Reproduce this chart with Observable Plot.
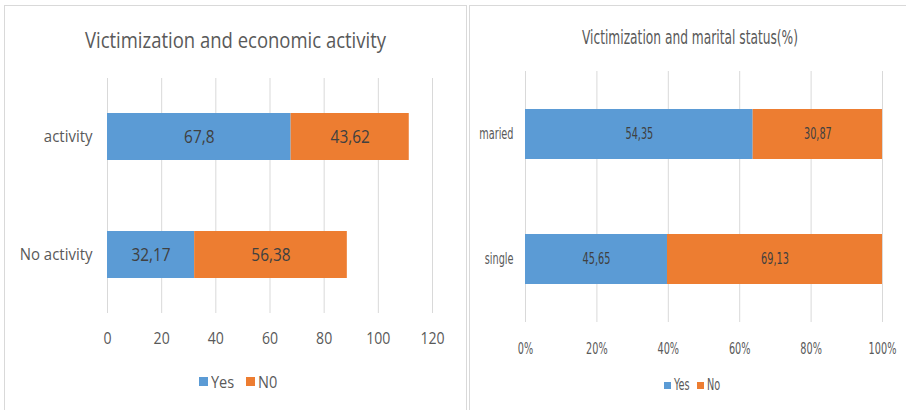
<!DOCTYPE html>
<html>
<head>
<meta charset="utf-8">
<script src="https://cdn.jsdelivr.net/npm/d3@7"></script>
<script src="https://cdn.jsdelivr.net/npm/@observablehq/plot@0.6"></script>
<style>
  html, body { margin: 0; padding: 0; background: #fff; }
  body { position: relative; width: 906px; height: 410px; overflow: hidden; }
  .frame { position: absolute; border: 1px solid #d9d9d9; box-sizing: border-box; }
  .abs { position: absolute; }
  .title { position: absolute; text-align: center; color: #595959; white-space: nowrap; }
  .legend { position: absolute; display: flex; justify-content: center; align-items: center; color: #595959; white-space: nowrap; }
  .legend span.sw { display: inline-block; flex: none; }
  .legend span.lt { display: inline-block; transform-origin: 0 50%; flex: none; }
  #left, #left * { font-family: "Open Sans", sans-serif; }
  #right, #right * { font-family: "DejaVu Sans Condensed", sans-serif; }
</style>
</head>
<body>
<div id="left">
  <div class="frame" style="left:4px;top:5px;width:463px;height:430px;"></div>
  <div class="title" id="titleL" style="left:4px;top:27px;width:463px;font-size:21px;line-height:26px;transform:scaleX(0.88);">Victimization and economic activity</div>
  <div class="abs" id="plotL" style="left:0px;top:70px;"></div>
  <div class="legend" id="legL" style="left:138px;top:371px;width:200px;height:20px;font-size:16.5px;"></div>
</div>
<div id="right">
  <div class="frame" style="left:469px;top:5px;width:450px;height:430px;"></div>
  <div class="title" id="titleR" style="left:469px;top:25px;width:442px;font-size:20px;line-height:24px;transform:scaleX(0.68);">Victimization and marital status(%)</div>
  <div class="abs" id="plotR" style="left:469px;top:60px;"></div>
  <div class="legend" id="legR" style="left:592px;top:375px;width:200px;height:20px;font-size:15px;"></div>
</div>
<script>
// ---------- Data: left chart ----------
const catsL = ["activity", "No activity"];
const seriesL = ["Yes", "N0"];
const yesL = [67.8, 32.17];
const noL = [43.62, 56.38];
const ticksL = [0, 20, 40, 60, 80, 100, 120];

// ---------- Data: right chart ----------
const catsR = ["maried", "single"];
const seriesR = ["Yes", "No"];
const yesR = [54.35, 45.65];
const noR = [30.87, 69.13];
const ticksR = [0, 0.2, 0.4, 0.6, 0.8, 1];

const colors = ["#5B9BD5", "#ED7D31"];
const fmtComma = v => String(v).replace(".", ",");

function rows(cats, series, a, b) {
  const out = [];
  cats.forEach((c, i) => {
    out.push({cat: c, series: series[0], value: a[i]});
    out.push({cat: c, series: series[1], value: b[i]});
  });
  return out;
}

const dataL = rows(catsL, seriesL, yesL, noL);
const dataR = rows(catsR, seriesR, yesR, noR);

// Horizontally condense SVG text (the reference uses a narrow font)
function squash(svg, f) {
  svg.querySelectorAll("text").forEach(t => {
    const L = t.getComputedTextLength();
    if (L > 0) {
      t.setAttribute("textLength", (L * f).toFixed(2));
      t.setAttribute("lengthAdjust", "spacingAndGlyphs");
    }
  });
}

// ---------- Left plot ----------
const plotL = Plot.plot({
  width: 466,
  height: 290,
  marginLeft: 107,
  marginRight: 34,
  marginTop: 8,
  marginBottom: 47,
  style: {fontFamily: "Open Sans, sans-serif", color: "#595959", background: "transparent", overflow: "visible"},
  x: {domain: [0, 120], label: null},
  y: {domain: catsL, label: null, paddingInner: 0.6, paddingOuter: 0.29},
  color: {domain: seriesL, range: colors},
  marks: [
    Plot.gridX(ticksL, {stroke: "#d9d9d9", strokeOpacity: 1, strokeWidth: 1}),
    Plot.barX(dataL, Plot.stackX({x: "value", y: "cat", fill: "series", order: seriesL})),
    Plot.textX(dataL, Plot.stackX({x: "value", y: "cat", z: "series", order: seriesL,
      text: d => fmtComma(d.value), fill: "#404040", fontSize: 17.5})),
    Plot.axisX({ticks: ticksL, tickSize: 0, tickPadding: 19, fontSize: 16, label: null, fill: "#595959"}),
    Plot.axisY({tickSize: 0, tickPadding: 15, fontSize: 17, label: null, fill: "#595959"})
  ]
});
document.getElementById("plotL").appendChild(plotL);
squash(plotL, 0.88);

// ---------- Right plot ----------
const plotR = Plot.plot({
  width: 437,
  height: 300,
  marginLeft: 56,
  marginRight: 24,
  marginTop: 11,
  marginBottom: 38,
  style: {fontFamily: "DejaVu Sans Condensed, sans-serif", color: "#595959", background: "transparent", overflow: "visible"},
  x: {domain: [0, 1], label: null},
  y: {domain: catsR, label: null, paddingInner: 0.6, paddingOuter: 0.3},
  color: {domain: seriesR, range: colors},
  marks: [
    Plot.gridX(ticksR, {stroke: "#d9d9d9", strokeOpacity: 1, strokeWidth: 1}),
    Plot.barX(dataR, Plot.stackX({x: "value", y: "cat", fill: "series", order: seriesR, offset: "normalize"})),
    Plot.textX(dataR, Plot.stackX({x: "value", y: "cat", z: "series", order: seriesR, offset: "normalize",
      text: d => fmtComma(d.value), fill: "#404040", fontSize: 15})),
    Plot.axisX({ticks: ticksR, tickFormat: d3.format(".0%"), tickSize: 0, tickPadding: 21, fontSize: 15, label: null, fill: "#595959"}),
    Plot.axisY({tickSize: 0, tickPadding: 12, fontSize: 15, label: null, fill: "#595959"})
  ]
});
document.getElementById("plotR").appendChild(plotR);
squash(plotR, 0.72);

// ---------- Legends ----------
function legend(el, series, sw, gapText, gapItem, f) {
  series.forEach((s, i) => {
    const item = document.createElement("span");
    item.style.display = "inline-flex";
    item.style.alignItems = "center";
    if (i > 0) item.style.marginLeft = gapItem + "px";
    const box = document.createElement("span");
    box.className = "sw";
    box.style.width = sw + "px";
    box.style.height = sw + "px";
    box.style.background = colors[i];
    box.style.marginRight = gapText + "px";
    const t = document.createElement("span");
    t.className = "lt";
    t.textContent = s;
    item.appendChild(box);
    item.appendChild(t);
    el.appendChild(item);
    const w = t.getBoundingClientRect().width;
    t.style.width = (w * f) + "px";
    t.style.transform = "scaleX(" + f + ")";
  });
}
legend(document.getElementById("legL"), seriesL, 9, 3, 12, 0.88);
legend(document.getElementById("legR"), seriesR, 7, 3, 8, 0.72);
</script>
</body>
</html>
